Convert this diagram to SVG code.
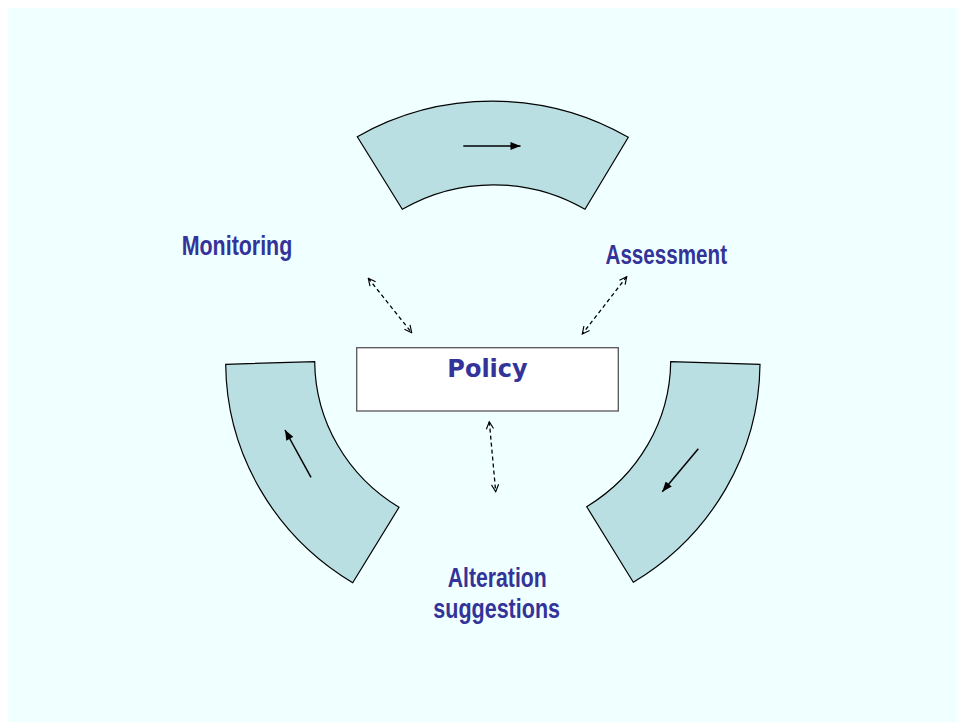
<svg xmlns="http://www.w3.org/2000/svg" width="957" height="722" viewBox="0 0 957 722">
<style>
.seg{fill:#BADFE2;stroke:#000;stroke-width:1.2}
.flow{stroke:#000;stroke-width:1.5;fill:none}
.link{stroke:#000;stroke-width:1.3;fill:none;stroke-dasharray:4 3}
.lbl{font-family:"Liberation Sans",Arial,sans-serif;font-weight:bold;font-size:27px;fill:#333399}
.pol{font-family:"DejaVu Sans",Verdana,sans-serif;font-weight:bold;font-size:24px;fill:#333399}
</style>
<defs>
<marker id="solid" viewBox="0 0 10 8" refX="10" refY="4" markerWidth="11" markerHeight="8" markerUnits="userSpaceOnUse" orient="auto">
<path d="M0,0 L10,4 L0,8 Z" fill="#000"/>
</marker>
<marker id="open" viewBox="0 0 10 10" refX="9" refY="5" markerWidth="9" markerHeight="9" markerUnits="userSpaceOnUse" orient="auto-start-reverse">
<path d="M1,1 L9,5 L1,9" fill="none" stroke="#000" stroke-width="1.3"/>
</marker>
</defs>
<rect x="8" y="8" width="949" height="714" fill="#F0FFFF"/>

<g id="segment-top">
<path class="seg" d="M357.3,136.7 A267,259 0 0 1 628.3,137.3 L585,209.3 A178,173 0 0 0 402.3,209.3 Z"/>
<line class="flow" x1="463.3" y1="146" x2="520.5" y2="146" marker-end="url(#solid)"/>
</g>
<g id="segment-left">
<path class="seg" d="M225.7,364.3 L314.7,361.7 A178,173 0 0 0 399,507.3 L352.7,582.7 A267,259 0 0 1 225.7,364.3 Z"/>
<line class="flow" x1="311" y1="477.3" x2="285" y2="430" marker-end="url(#solid)"/>
</g>
<g id="segment-right">
<path class="seg" d="M670.7,361.7 L760,364.3 A267,259 0 0 1 633.3,582.3 L586.7,506.7 A178,173 0 0 0 670.7,361.7 Z"/>
<line class="flow" x1="698.3" y1="448.7" x2="662.3" y2="491.7" marker-end="url(#solid)"/>
</g>

<g id="policy">
<rect x="356.7" y="347.7" width="261.6" height="63.3" fill="#FFFFFF" stroke="#555" stroke-width="1.3"/>
<text class="pol" x="487.5" y="376.7" text-anchor="middle">Policy</text>
</g>

<g id="monitoring">
<text class="lbl" x="181.7" y="254.7" textLength="110.6" lengthAdjust="spacingAndGlyphs">Monitoring</text>
</g>
<g id="assessment">
<text class="lbl" x="605.5" y="263.5" textLength="121.5" lengthAdjust="spacingAndGlyphs">Assessment</text>
</g>
<g id="alteration">
<text class="lbl" x="447.7" y="586.7" textLength="99" lengthAdjust="spacingAndGlyphs">Alteration</text>
<text class="lbl" x="433.3" y="618.3" textLength="126.7" lengthAdjust="spacingAndGlyphs">suggestions</text>
</g>

<g id="connectors">
<line class="link" x1="368.3" y1="278.3" x2="411.7" y2="332.7" marker-start="url(#open)" marker-end="url(#open)"/>
<line class="link" x1="626.7" y1="276.7" x2="582.3" y2="334" marker-start="url(#open)" marker-end="url(#open)"/>
<line class="link" x1="489.3" y1="421.7" x2="495.7" y2="491.7" marker-start="url(#open)" marker-end="url(#open)"/>
</g>
</svg>
